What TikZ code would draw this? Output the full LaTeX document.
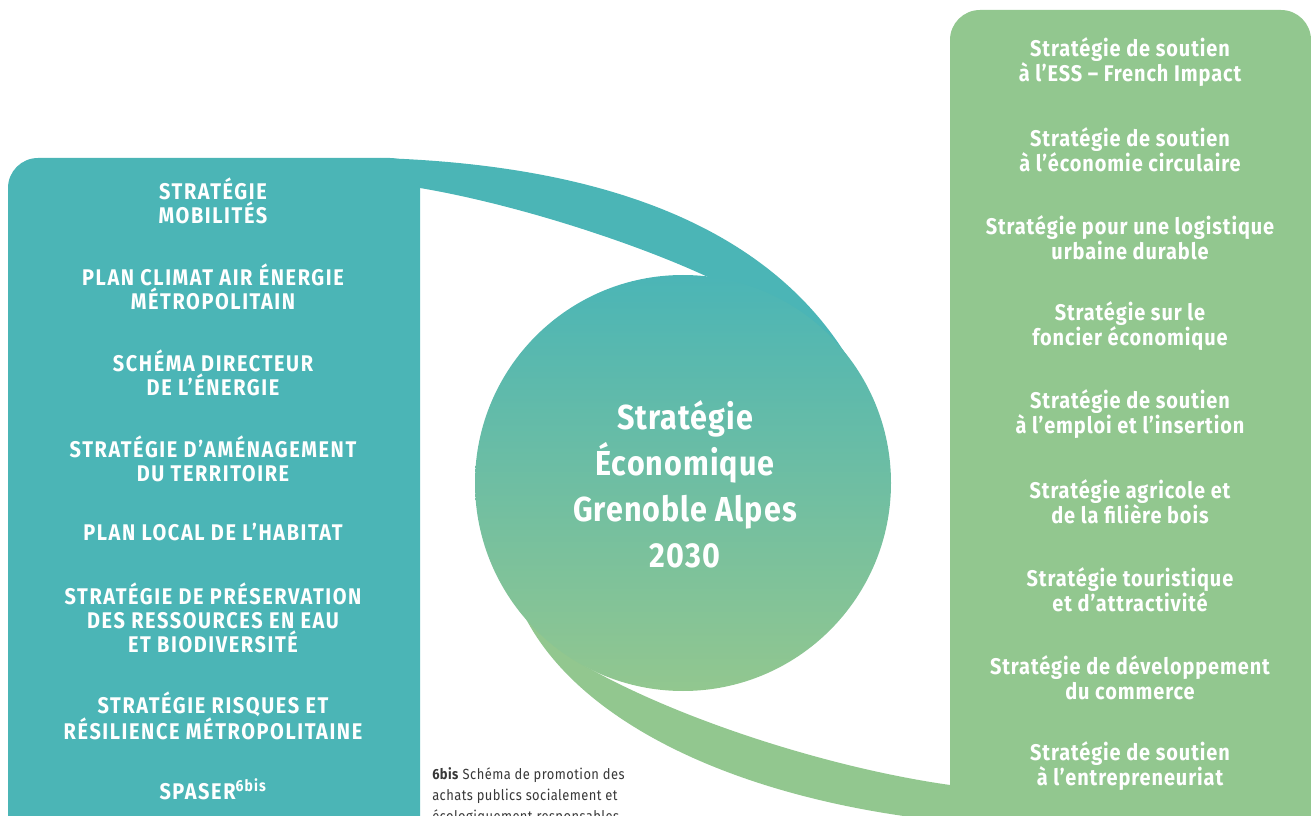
\documentclass[tikz,border=0pt]{standalone}
\usepackage{fontspec}
\setmainfont{Fira Sans}[FakeStretch=0.88]
\usepackage{tikz}
\definecolor{ttbbbb}{rgb}{0.294,0.710,0.714}
\definecolor{qqccqq}{rgb}{0.573,0.780,0.561}
\definecolor{wwwwww}{rgb}{0.22,0.22,0.22}

\begin{document}
\begin{tikzpicture}[line cap=round,line join=round,x=0.75pt,y=-0.75pt,
  lbl/.style={text=white,font=\bfseries\fontsize{17}{18}\selectfont\addfontfeatures{LetterSpace=7},align=center},
  rlbl/.style={text=white,font=\bfseries\fontsize{17}{18.75}\selectfont\addfontfeatures{LetterSpace=4},align=center}]
\useasboundingbox (0,0) rectangle (1311,816);
\clip (0,0) rectangle (1311,816);
% blocs
\fill[ttbbbb,rounded corners=22.5pt] (8,158) rectangle (420,870);
\fill[qqccqq,rounded corners=22.5pt] (950,10) rectangle (1311,870);
% bandes
\fill[ttbbbb] (380,158) .. controls (600,165) and (770,225) .. (851,363) -- (682,483) -- (710,278) .. controls (640,245) and (520,205) .. (420,188) -- (380,175) -- cycle;
\fill[qqccqq] (523,613) .. controls (580,730) and (760,810) .. (990,825) -- (990,785) -- (950,785) .. controls (830,768) and (680,720) .. (585,666) -- (682,483) -- cycle;
\shade[top color=ttbbbb,bottom color=qqccqq] (683,483) circle (156pt);
\node[text=white,align=center,font=\bfseries\fontsize{26}{34.5}\selectfont\addfontfeatures{LetterSpace=3}] (eco) at (685,484) {Stratégie\\Économique\\Grenoble Alpes\\2030};
% gauche
\node[lbl] (mobil) at (213,201) {STRATÉGIE\\MOBILITÉS};
\node[lbl] (pcaem) at (213,287) {PLAN CLIMAT AIR ÉNERGIE\\MÉTROPOLITAIN};
\node[lbl] (sde) at (213,373) {SCHÉMA DIRECTEUR\\DE L’ÉNERGIE};
\node[lbl] (amenag) at (213,459) {STRATÉGIE D’AMÉNAGEMENT\\DU TERRITOIRE};
\node[lbl] (plh) at (213,532) {PLAN LOCAL DE L’HABITAT};
\node[lbl] (eau) at (213,618) {STRATÉGIE DE PRÉSERVATION\\DES RESSOURCES EN EAU\\ET BIODIVERSITÉ};
\node[lbl] (risques) at (213,716) {STRATÉGIE RISQUES ET\\RÉSILIENCE MÉTROPOLITAINE};
\node[lbl] (spaser) at (213,789) {SPASER\textsuperscript{6bis}};
% droite
\node[rlbl] (ess) at (1130,62) {Stratégie de soutien\\à l’ESS – French Impact};
\node[rlbl] (circ) at (1130,150) {Stratégie de soutien\\à l’économie circulaire};
\node[rlbl] (logist) at (1130,238) {Stratégie pour une logistique\\urbaine durable};
\node[rlbl] (foncier) at (1130,326) {Stratégie sur le\\foncier économique};
\node[rlbl] (emploi) at (1130,414) {Stratégie de soutien\\à l’emploi et l’insertion};
\node[rlbl] (agri) at (1130,502) {Stratégie agricole et\\de la filière bois};
\node[rlbl] (tour) at (1130,590) {Stratégie touristique\\et d’attractivité};
\node[rlbl] (comm) at (1130,678) {Stratégie de développement\\du commerce};
\node[rlbl] (entre) at (1130,766) {Stratégie de soutien\\à l’entrepreneuriat};
% note
\node[anchor=north west,inner sep=0pt,align=left,text=wwwwww,font=\fontsize{11}{15.75}\selectfont\addfontfeatures{LetterSpace=3}] (note) at (432,767) {\textbf{6bis} Schéma de promotion des\\achats publics socialement et\\écologiquement responsables};
\end{tikzpicture}
\end{document}
